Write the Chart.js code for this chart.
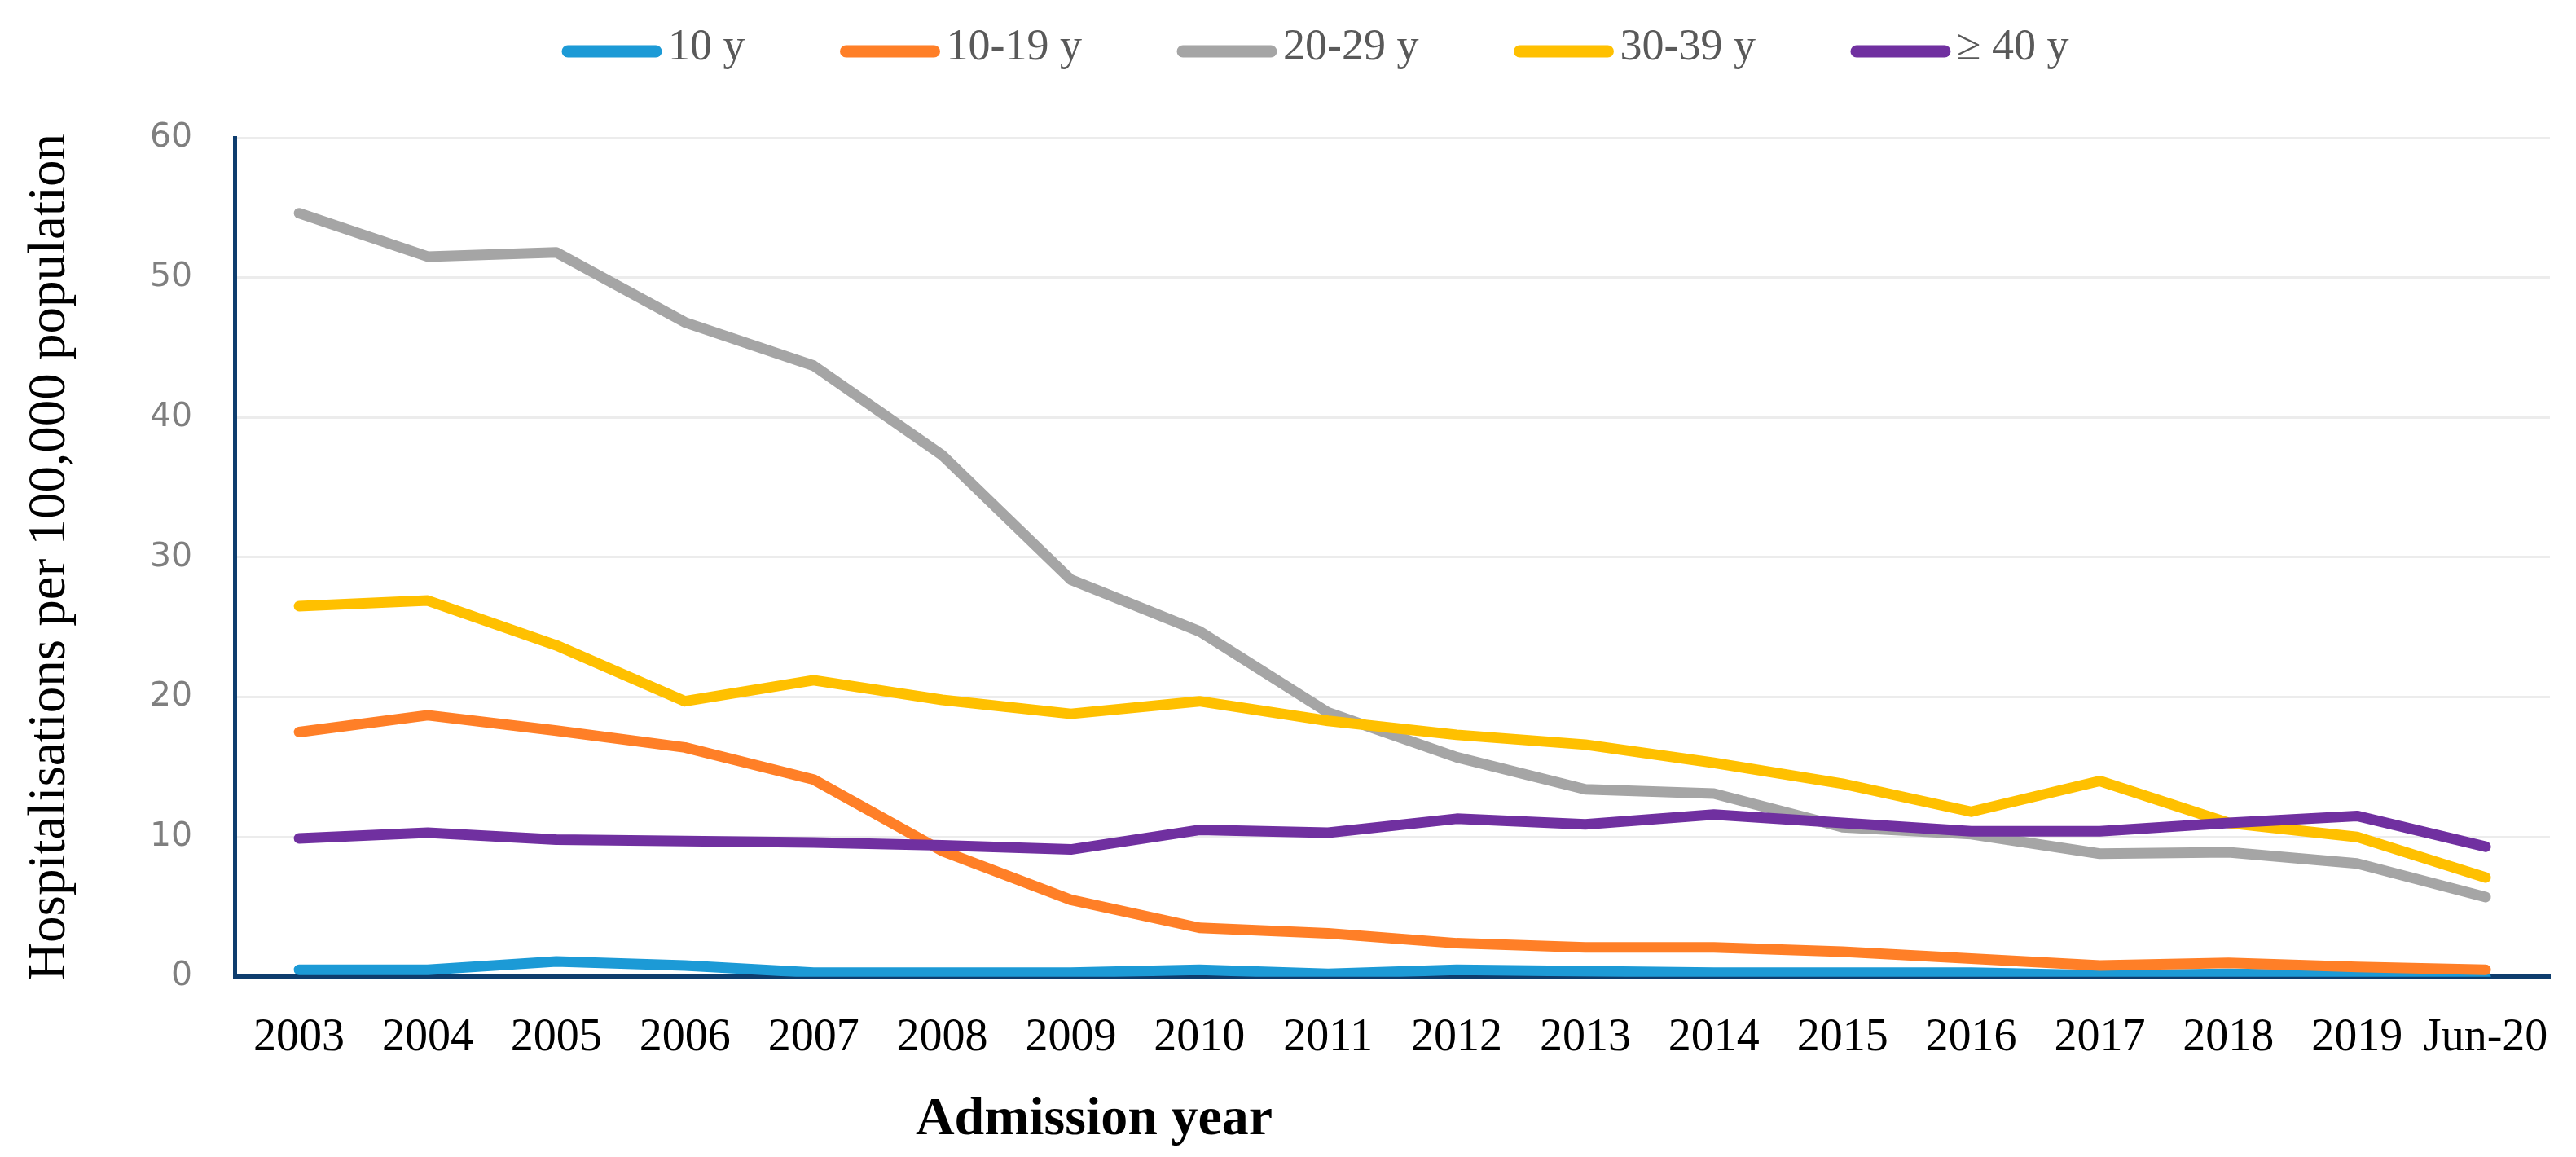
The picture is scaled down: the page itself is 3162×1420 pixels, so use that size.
<!DOCTYPE html>
<html>
<head>
  <title>Hospitalisations by age group</title>
  <script src="https://cdn.jsdelivr.net/npm/chart.js"></script>
  <style>
    body { margin: 0; background: #fff; }
  </style>
</head>
<body>
  <canvas id="hospChart" width="3162" height="1420"></canvas>

  <script>
    // Data
    const years = ['2003', '2004', '2005', '2006', '2007', '2008', '2009', '2010', '2011',
                   '2012', '2013', '2014', '2015', '2016', '2017', '2018', '2019', 'Jun-20'];
    const seriesNames = ['10 y', '10-19 y', '20-29 y', '30-39 y', '\u2265 40 y'];
    const under10   = [0.5, 0.5, 1.1, 0.8, 0.3, 0.3, 0.3, 0.5, 0.2, 0.5, 0.4, 0.3, 0.3, 0.3, 0.1, 0.2, 0.1, 0.0];
    const age10to19 = [17.5, 18.7, 17.6, 16.4, 14.1, 9.0, 5.5, 3.5, 3.1, 2.4, 2.1, 2.1, 1.8, 1.3, 0.8, 1.0, 0.7, 0.5];
    const age20to29 = [54.6, 51.5, 51.8, 46.8, 43.7, 37.3, 28.4, 24.7, 18.9, 15.7, 13.4, 13.1, 10.7, 10.2, 8.8, 8.9, 8.1, 5.7];
    const age30to39 = [26.5, 26.9, 23.7, 19.7, 21.2, 19.8, 18.8, 19.7, 18.3, 17.3, 16.6, 15.3, 13.8, 11.8, 14.0, 11.0, 10.0, 7.1];
    const age40plus = [9.9, 10.3, 9.8, 9.7, 9.6, 9.4, 9.1, 10.5, 10.3, 11.3, 10.9, 11.6, 11.0, 10.4, 10.4, 11.0, 11.5, 9.3];
    const yTicks = [0, 10, 20, 30, 40, 50, 60];

    const colors = ['#1c9ad6', '#ff7f27', '#a5a5a5', '#ffc000', '#7030a0'];
    const values = [under10, age10to19, age20to29, age30to39, age40plus];

    const serif = "'Liberation Serif', 'Times New Roman', serif";

    // legend + x title drawn by hand (positions follow the figure)
    const extraText = {
      id: 'extraText',
      afterDraw(chart) {
        const ctx = chart.ctx;
        ctx.save();
        let x = 697;
        const y = 63;
        ctx.font = '54px ' + serif;
        ctx.textBaseline = 'middle';
        ctx.textAlign = 'left';
        chart.data.datasets.forEach(ds => {
          ctx.strokeStyle = ds.borderColor;
          ctx.lineWidth = 15;
          ctx.lineCap = 'round';
          ctx.beginPath();
          ctx.moveTo(x, y);
          ctx.lineTo(x + 108, y);
          ctx.stroke();
          ctx.fillStyle = '#595959';
          ctx.fillText(ds.label, x + 123, y - 4);
          x += 123 + ctx.measureText(ds.label).width + 124;
        });

        ctx.font = 'bold 66px ' + serif;
        ctx.fillStyle = '#000';
        ctx.textAlign = 'center';
        ctx.textBaseline = 'alphabetic';
        ctx.fillText('Admission year', 1343, 1392);
        ctx.restore();
      }
    };

    const ctx = document.getElementById('hospChart').getContext('2d');
    new Chart(ctx, {
      type: 'line',
      data: {
        labels: years,
        datasets: seriesNames.map((name, i) => ({
          label: name,
          data: values[i],
          borderColor: colors[i],
          backgroundColor: colors[i],
          borderWidth: 13,
          borderCapStyle: 'round',
          borderJoinStyle: 'round',
          pointRadius: 0,
          tension: 0,
          order: seriesNames.length - 1 - i
        }))
      },
      options: {
        responsive: false,
        devicePixelRatio: 1,
        animation: false,
        layout: { padding: { top: 169, right: 25, bottom: 78, left: 0 } },
        plugins: {
          legend: { display: false },
          tooltip: { enabled: false }
        },
        scales: {
          x: {
            offset: true,
            grid: { display: false },
            border: { color: '#0e3d6e', width: 5 },
            ticks: {
              color: '#000',
              font: { family: serif, size: 56 },
              padding: 34,
              autoSkip: false,
              maxRotation: 0
            }
          },
          y: {
            min: 0,
            max: 60,
            afterBuildTicks: (axis) => { axis.ticks = yTicks.map(v => ({ value: v })); },
            grid: { color: '#ececec', lineWidth: 3, drawTicks: false },
            border: { color: '#0e3d6e', width: 5 },
            ticks: {
              color: '#7f7f7f',
              font: { family: "'DejaVu Sans', sans-serif", size: 41 },
              padding: 52
            },
            title: {
              display: true,
              text: 'Hospitalisations per 100,000 population',
              color: '#000',
              font: { family: serif, size: 65 },
              padding: { top: 23, bottom: 31 }
            }
          }
        }
      },
      plugins: [extraText]
    });
  </script>
</body>
</html>
